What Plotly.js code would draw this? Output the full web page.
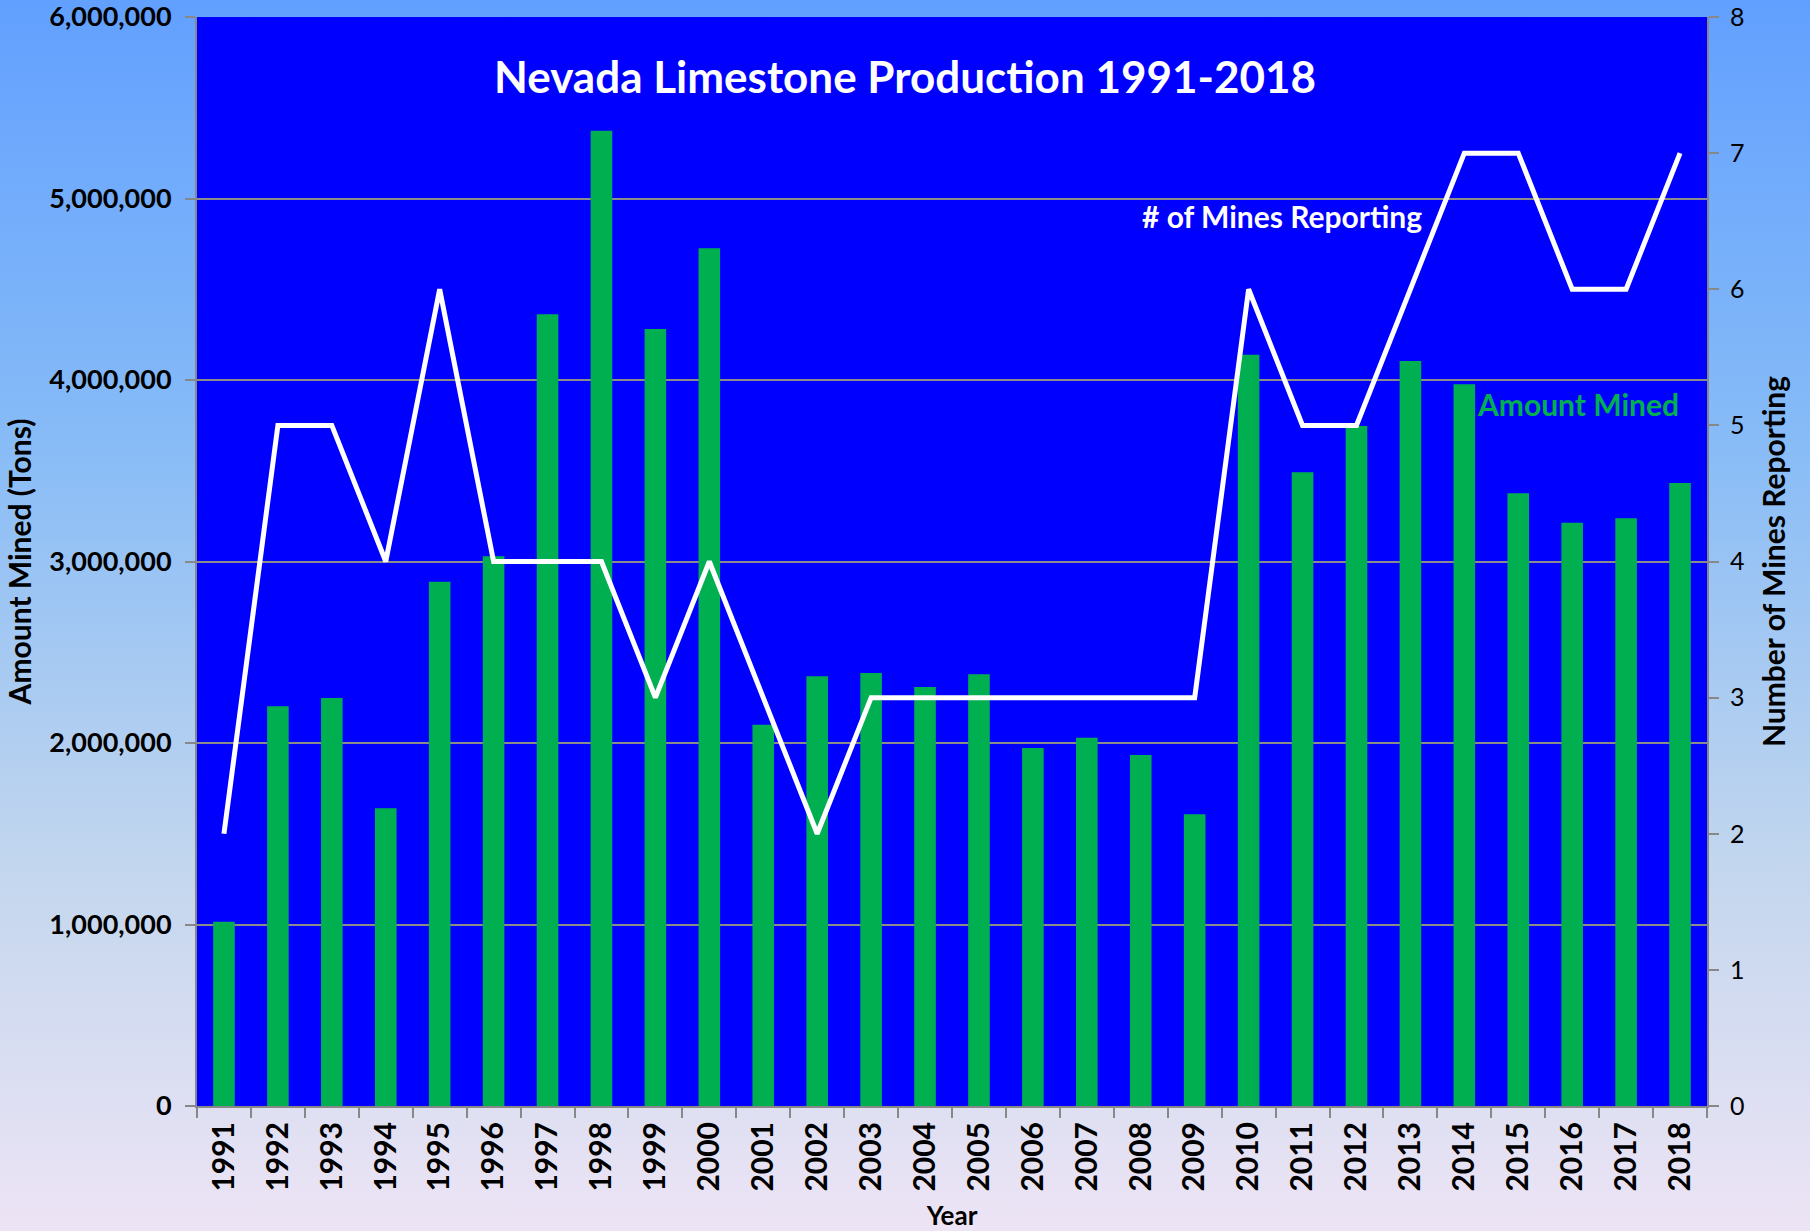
<!DOCTYPE html>
<html>
<head>
<meta charset="utf-8">
<script src="https://cdn.plot.ly/plotly-3.0.1.min.js"></script>
<style>
  html, body { margin: 0; padding: 0; }
  body { width: 1810px; height: 1231px; background: linear-gradient(to bottom, #62a0ff 0%, #86bbf7 35%, #c2d6ee 70%, #ede4f5 100%); }
  #chart { width: 1810px; height: 1231px; }
</style>
</head>
<body>
<div id="chart"></div>
<script>
const years = ["1991","1992","1993","1994","1995","1996","1997","1998","1999","2000",
               "2001","2002","2003","2004","2005","2006","2007","2008","2009","2010",
               "2011","2012","2013","2014","2015","2016","2017","2018"];
const amountMined = [1015000, 2202000, 2248000, 1640000, 2888000, 3029000, 4362000, 5373000, 4281000, 4726000,
                     2100000, 2368000, 2386000, 2308000, 2379000, 1972000, 2029000, 1934000, 1608000, 4139000,
                     3492000, 3747000, 4104000, 3977000, 3376000, 3213000, 3238000, 3432000];
const minesReporting = [2, 5, 5, 4, 6, 4, 4, 4, 3, 4,
                        3, 2, 3, 3, 3, 3, 3, 3, 3, 6,
                        5, 5, 6, 7, 7, 6, 6, 7];
const leftTicks = [0, 1000000, 2000000, 3000000, 4000000, 5000000, 6000000];
const rightTicks = [0, 1, 2, 3, 4, 5, 6, 7, 8];

const FONT = "Lato, 'Open Sans', sans-serif";

const traces = [
  {
    type: "bar", x: years, y: amountMined, name: "Amount Mined",
    marker: { color: "#00b050" }, yaxis: "y", hoverinfo: "x+y"
  },
  {
    type: "scatter", mode: "lines", x: years, y: minesReporting, name: "# of Mines Reporting",
    line: { color: "#ffffff", width: 5 }, yaxis: "y2"
  }
];

const layout = {
  width: 1810, height: 1231,
  margin: { l: 197, r: 103, t: 17, b: 125 },
  paper_bgcolor: "rgba(0,0,0,0)",
  plot_bgcolor: "#0000ff",
  showlegend: false,
  bargap: 0.6,
  title: {
    text: "Nevada Limestone Production 1991-2018",
    font: { family: FONT, size: 44, color: "#ffffff", weight: 700 },
    xref: "container", x: 0.5, xanchor: "center",
    yref: "container", y: 1 - 78/1231, yanchor: "middle"
  },
  xaxis: {
    type: "category",
    tickson: "boundaries",
    ticks: "outside", ticklen: 10, tickcolor: "#888888", tickwidth: 2,
    tickangle: -90,
    tickfont: { family: FONT, size: 30, color: "#000000", weight: 700 },
    ticklabelstandoff: 2,
    showline: true, linecolor: "#888888", linewidth: 2,
    showgrid: false, zeroline: false,
    title: { text: "Year", font: { family: FONT, size: 26, color: "#000000", weight: 700 }, standoff: 18 }
  },
  yaxis: {
    range: [0, 6000000],
    tickvals: leftTicks,
    tickformat: ",",
    ticklabeloverflow: "allow",
    ticks: "outside", ticklen: 10, tickcolor: "#888888", tickwidth: 2,
    tickfont: { family: FONT, size: 27, color: "#000000", weight: 700 },
    ticklabelstandoff: 8,
    showline: true, linecolor: "#888888", linewidth: 2,
    showgrid: true, gridcolor: "#8c8c8c", gridwidth: 1.5,
    zeroline: false,
    title: { text: "Amount Mined (Tons)", font: { family: FONT, size: 30, color: "#000000", weight: 700 }, standoff: 9 }
  },
  yaxis2: {
    overlaying: "y", side: "right",
    range: [0, 8],
    tickvals: rightTicks,
    ticklabeloverflow: "allow",
    ticks: "outside", ticklen: 10, tickcolor: "#888888", tickwidth: 2,
    tickfont: { family: FONT, size: 25, color: "#000000" },
    ticklabelstandoff: 6,
    showline: true, linecolor: "#888888", linewidth: 2,
    showgrid: false, zeroline: false,
    title: { text: "Number of Mines Reporting", font: { family: FONT, size: 30, color: "#000000", weight: 700 }, standoff: 20 }
  },
  annotations: [
    {
      text: "# of Mines Reporting", xref: "paper", yref: "paper",
      x: (1140 - 197) / 1510, y: (1106 - 216) / 1089, xanchor: "left", yanchor: "middle",
      showarrow: false, font: { family: FONT, size: 30, color: "#ffffff", weight: 700 }
    },
    {
      text: "Amount Mined", xref: "paper", yref: "paper",
      x: (1681 - 197) / 1510, y: (1106 - 404) / 1089, xanchor: "right", yanchor: "middle",
      showarrow: false, font: { family: FONT, size: 30, color: "#00b050", weight: 700 }
    }
  ]
};

Plotly.newPlot("chart", traces, layout, { displayModeBar: false, responsive: false });
</script>
</body>
</html>
